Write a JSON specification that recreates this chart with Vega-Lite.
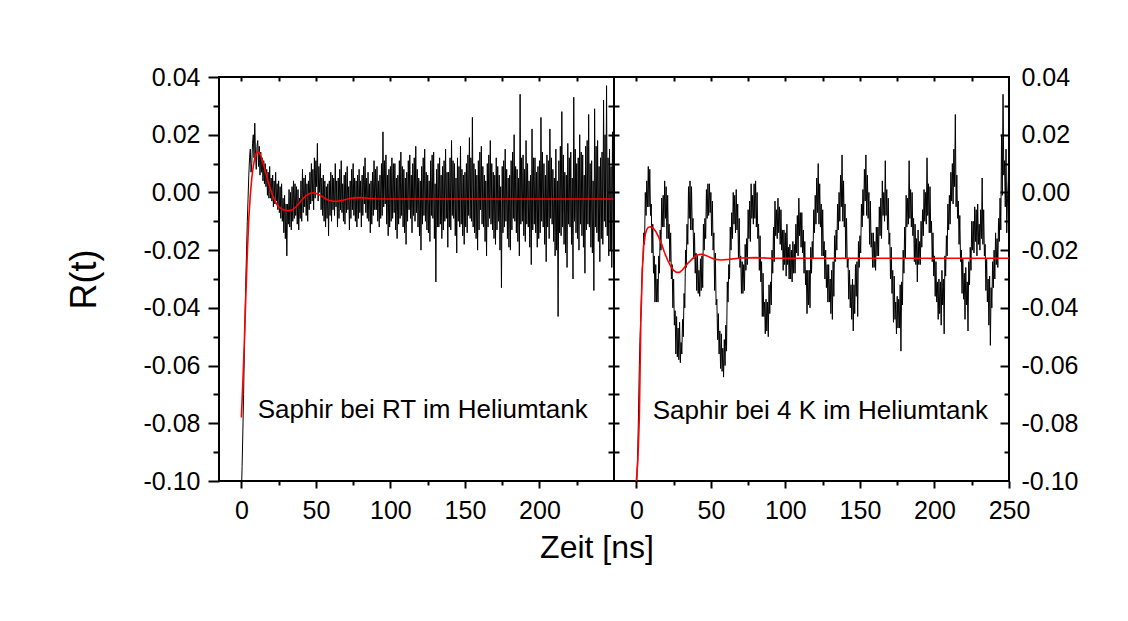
{
"$schema": "https://vega.github.io/schema/vega-lite/v6.json",
"padding": {"left": 65, "top": 64, "right": 5, "bottom": 5},
"spacing": 0,
"bounds": "flush",
"config": {
  "view": {"stroke": "black", "strokeWidth": 2},
  "axis": {"labelFont": "Liberation Sans", "titleFont": "Liberation Sans", "labelColor": "black", "titleColor": "black", "tickColor": "black", "domainColor": "black", "grid": false, "titleFontWeight": "normal", "labelFontSize": 25, "tickWidth": 2},
  "text": {"font": "Liberation Sans", "fontSize": 26, "color": "black"},
  "locale": {"number": {"decimal": ".", "thousands": ",", "grouping": [3], "currency": ["", ""], "minus": "-"}}
},
"datasets": {
"rt": [{"t":0,"r":-0.105},{"t":0.5,"r":-0.095},{"t":1,"r":-0.083},{"t":1.5,"r":-0.07},{"t":2,"r":-0.055},{"t":2.5,"r":-0.042},{"t":3,"r":-0.03},{"t":3.5,"r":-0.02},{"t":4,"r":-0.01},{"t":4.5,"r":-0.002},{"t":5,"r":0.006},{"t":5.5,"r":0.012},{"t":6,"r":0.015},{"t":6.5,"r":0.007},{"t":7,"r":0.01},{"t":7.5,"r":0.017},{"t":8,"r":0.02},{"t":8.5,"r":0.012},{"t":9,"r":0.024},{"t":9.5,"r":0.013},{"t":10,"r":0.008},{"t":10.5,"r":0.016},{"t":11,"r":0.018},{"t":11.5,"r":0.009},
{"t":12,"r":0.016},{"t":12.5,"r":0.006},{"t":13,"r":0.014},{"t":13.5,"r":0.007},{"t":14,"r":0.012},{"t":14.5,"r":0.004},{"t":15,"r":0.011},{"t":15.5,"r":0.003},{"t":16,"r":0.01},{"t":16.5,"r":0.002},{"t":17,"r":0.008},{"t":17.5,"r":-0.001},{"t":18,"r":0.007},{"t":18.5,"r":-0.002},{"t":19,"r":0.009},{"t":19.5,"r":-0.002},{"t":20,"r":0.005},{"t":20.5,"r":-0.003},{"t":21,"r":0.006},{"t":21.5,"r":-0.005},{"t":22,"r":0.004},{"t":22.5,"r":-0.004},{"t":23,"r":0.007},{"t":23.5,"r":-0.003},{"t":24,"r":0.003},{"t":24.5,"r":-0.006},{"t":25,"r":0.004},{"t":25.5,"r":-0.007},{"t":26,"r":0.002},{"t":26.5,"r":-0.009},{"t":27,"r":0.003},{"t":27.5,"r":-0.01},{"t":28,"r":-0.002},{"t":28.5,"r":-0.014},{"t":29,"r":-0.001},{"t":29.5,"r":-0.016},{"t":30,"r":-0.004},{"t":30.5,"r":-0.022},{"t":31,"r":-0.004},{"t":31.5,"r":-0.011},{"t":32,"r":0.001},{"t":32.5,"r":-0.012},{"t":33,"r":0},{"t":33.5,"r":-0.013},{"t":34,"r":0.002},{"t":34.5,"r":-0.01},{"t":35,"r":0.004},{"t":35.5,"r":-0.009},{"t":36,"r":0.003},{"t":36.5,"r":-0.008},{"t":37,"r":0.002},{"t":37.5,"r":-0.011},{"t":38,"r":0.001},{"t":38.5,"r":-0.013},{"t":39,"r":-0.002},{"t":39.5,"r":-0.009},{"t":40,"r":0.004},{"t":40.5,"r":-0.01},{"t":41,"r":0.008},{"t":41.5,"r":-0.007},{"t":42,"r":0.005},{"t":42.5,"r":-0.005},{"t":43,"r":0.006},{"t":43.5,"r":-0.008},{"t":44,"r":0.003},{"t":44.5,"r":-0.01},{"t":45,"r":0.004},{"t":45.5,"r":-0.006},{"t":46,"r":0.007},{"t":46.5,"r":-0.004},{"t":47,"r":0.01},{"t":47.5,"r":-0.003},{"t":48,"r":0.008},{"t":48.5,"r":-0.006},{"t":49,"r":0.012},{"t":49.5,"r":-0.002},{"t":50,"r":0.011},{"t":50.5,"r":0.002},{"t":51,"r":0.017},{"t":51.5,"r":-0.003},{"t":52,"r":0.009},{"t":52.5,"r":0},{"t":53,"r":0.01},{"t":53.5,"r":-0.006},{"t":54,"r":0.005},{"t":54.5,"r":-0.008},{"t":55,"r":0.006},{"t":55.5,"r":-0.01},{"t":56,"r":0.004},{"t":56.5,"r":-0.012},{"t":57,"r":0.002},{"t":57.5,"r":-0.009},{"t":58,"r":0.003},{"t":58.5,"r":-0.015},{"t":59,"r":0.004},{"t":59.5,"r":-0.008},{"t":60,"r":0.007},{"t":60.5,"r":-0.01},{"t":61,"r":0.006},{"t":61.5,"r":-0.006},{"t":62,"r":0.005},{"t":62.5,"r":-0.008},{"t":63,"r":0.01},{"t":63.5,"r":-0.005},{"t":64,"r":0.004},{"t":64.5,"r":-0.012},{"t":65,"r":0.005},{"t":65.5,"r":-0.009},{"t":66,"r":0.008},{"t":66.5,"r":-0.006},{"t":67,"r":0.011},{"t":67.5,"r":-0.007},{"t":68,"r":0.003},{"t":68.5,"r":-0.01},{"t":69,"r":0.006},{"t":69.5,"r":-0.011},{"t":70,"r":0.007},{"t":70.5,"r":-0.007},{"t":71,"r":0.009},{"t":71.5,"r":-0.006},{"t":72,"r":0.002},{"t":72.5,"r":-0.013},{"t":73,"r":0.004},{"t":73.5,"r":-0.009},{"t":74,"r":0.008},{"t":74.5,"r":-0.006},{"t":75,"r":0.01},{"t":75.5,"r":-0.008},{"t":76,"r":0.005},{"t":76.5,"r":-0.01},{"t":77,"r":0.004},{"t":77.5,"r":-0.012},{"t":78,"r":0.006},{"t":78.5,"r":-0.009},{"t":79,"r":0.008},{"t":79.5,"r":-0.007},{"t":80,"r":0.004},{"t":80.5,"r":-0.012},{"t":81,"r":0.006},{"t":81.5,"r":-0.008},{"t":82,"r":0.009},{"t":82.5,"r":-0.004},{"t":83,"r":0.012},{"t":83.5,"r":-0.007},{"t":84,"r":0.005},{"t":84.5,"r":-0.009},{"t":85,"r":0.007},{"t":85.5,"r":-0.01},{"t":86,"r":0.003},{"t":86.5,"r":-0.014},{"t":87,"r":0.004},{"t":87.5,"r":-0.011},{"t":88,"r":0.007},{"t":88.5,"r":-0.008},{"t":89,"r":0.011},{"t":89.5,"r":-0.006},{"t":90,"r":0.008},{"t":90.5,"r":-0.006},{"t":91,"r":0.009},{"t":91.5,"r":-0.01},{"t":92,"r":0.004},{"t":92.5,"r":-0.012},{"t":93,"r":0.006},{"t":93.5,"r":-0.009},{"t":94,"r":0.01},{"t":94.5,"r":-0.008},{"t":95,"r":0.021},{"t":95.5,"r":-0.005},{"t":96,"r":0.011},{"t":96.5,"r":-0.004},{"t":97,"r":0.013},{"t":97.5,"r":-0.011},{"t":98,"r":0.006},{"t":98.5,"r":-0.015},{"t":99,"r":0.008},{"t":99.5,"r":-0.012},{"t":100,"r":0.009},{"t":100.5,"r":-0.01},{"t":101,"r":0.012},{"t":101.5,"r":-0.009},{"t":102,"r":0.01},{"t":102.5,"r":-0.007},{"t":103,"r":0.01},{"t":103.5,"r":-0.013},{"t":104,"r":0.005},{"t":104.5,"r":-0.016},{"t":105,"r":0.006},{"t":105.5,"r":-0.011},{"t":106,"r":0.011},{"t":106.5,"r":-0.009},{"t":107,"r":0.014},{"t":107.5,"r":-0.008},{"t":108,"r":0.009},{"t":108.5,"r":-0.012},{"t":109,"r":0.008},{"t":109.5,"r":-0.014},{"t":110,"r":0.005},{"t":110.5,"r":-0.018},{"t":111,"r":0.007},{"t":111.5,"r":-0.01},{"t":112,"r":0.011},{"t":112.5,"r":-0.006},{"t":113,"r":0.013},{"t":113.5,"r":-0.009},{"t":114,"r":0.006},{"t":114.5,"r":-0.014},{"t":115,"r":0.01},{"t":115.5,"r":-0.008},{"t":116,"r":0.012},{"t":116.5,"r":-0.01},{"t":117,"r":0.016},{"t":117.5,"r":-0.007},{"t":118,"r":0.008},{"t":118.5,"r":-0.012},{"t":119,"r":0.005},{"t":119.5,"r":-0.015},{"t":120,"r":0.004},{"t":120.5,"r":-0.02},{"t":121,"r":0.009},{"t":121.5,"r":-0.011},{"t":122,"r":0.012},{"t":122.5,"r":-0.008},{"t":123,"r":0.015},{"t":123.5,"r":-0.01},{"t":124,"r":0.007},{"t":124.5,"r":-0.013},{"t":125,"r":0.006},{"t":125.5,"r":-0.014},{"t":126,"r":0.004},{"t":126.5,"r":-0.017},{"t":127,"r":0.011},{"t":127.5,"r":-0.008},{"t":128,"r":0.013},{"t":128.5,"r":-0.009},{"t":129,"r":0.014},{"t":129.5,"r":-0.016},{"t":130,"r":0.003},{"t":130.5,"r":-0.031},{"t":131,"r":0.008},{"t":131.5,"r":-0.012},{"t":132,"r":0.01},{"t":132.5,"r":-0.012},{"t":133,"r":0.012},{"t":133.5,"r":-0.011},{"t":134,"r":0.006},{"t":134.5,"r":-0.016},{"t":135,"r":0.009},{"t":135.5,"r":-0.013},{"t":136,"r":0.011},{"t":136.5,"r":-0.01},{"t":137,"r":0.015},{"t":137.5,"r":-0.009},{"t":138,"r":0.007},{"t":138.5,"r":-0.019},{"t":139,"r":0.007},{"t":139.5,"r":-0.012},{"t":140,"r":0.012},{"t":140.5,"r":-0.013},{"t":141,"r":0.018},{"t":141.5,"r":-0.008},{"t":142,"r":0.011},{"t":142.5,"r":-0.009},{"t":143,"r":0.01},{"t":143.5,"r":-0.015},{"t":144,"r":0.005},{"t":144.5,"r":-0.021},{"t":145,"r":0.012},{"t":145.5,"r":-0.01},{"t":146,"r":0.009},{"t":146.5,"r":-0.012},{"t":147,"r":0.016},{"t":147.5,"r":-0.011},{"t":148,"r":0.008},{"t":148.5,"r":-0.015},{"t":149,"r":0.006},{"t":149.5,"r":-0.018},{"t":150,"r":0.007},{"t":150.5,"r":-0.012},{"t":151,"r":0.01},{"t":151.5,"r":-0.014},{"t":152,"r":0.013},{"t":152.5,"r":-0.008},{"t":153,"r":0.019},{"t":153.5,"r":-0.009},{"t":154,"r":0.012},{"t":154.5,"r":-0.01},{"t":155,"r":0.026},{"t":155.5,"r":-0.012},{"t":156,"r":0.01},{"t":156.5,"r":-0.014},{"t":157,"r":0.008},{"t":157.5,"r":-0.016},{"t":158,"r":0.006},{"t":158.5,"r":-0.02},{"t":159,"r":0.011},{"t":159.5,"r":-0.013},{"t":160,"r":0.014},{"t":160.5,"r":-0.006},{"t":161,"r":0.016},{"t":161.5,"r":-0.011},{"t":162,"r":0.009},{"t":162.5,"r":-0.012},{"t":163,"r":0.006},{"t":163.5,"r":-0.017},{"t":164,"r":0.004},{"t":164.5,"r":-0.022},{"t":165,"r":0.01},{"t":165.5,"r":-0.012},{"t":166,"r":0.013},{"t":166.5,"r":-0.009},{"t":167,"r":0.018},{"t":167.5,"r":-0.011},{"t":168,"r":0.01},{"t":168.5,"r":-0.013},{"t":169,"r":0.007},{"t":169.5,"r":-0.016},{"t":170,"r":0.006},{"t":170.5,"r":-0.018},{"t":171,"r":0.012},{"t":171.5,"r":-0.013},{"t":172,"r":0.009},{"t":172.5,"r":-0.01},{"t":173,"r":0.006},{"t":173.5,"r":-0.02},{"t":174,"r":0.002},{"t":174.5,"r":-0.033},{"t":175,"r":0.009},{"t":175.5,"r":-0.014},{"t":176,"r":0.011},{"t":176.5,"r":-0.012},{"t":177,"r":0.015},{"t":177.5,"r":-0.01},{"t":178,"r":0.008},{"t":178.5,"r":-0.016},{"t":179,"r":0.005},{"t":179.5,"r":-0.019},{"t":180,"r":0.006},{"t":180.5,"r":-0.02},{"t":181,"r":0.011},{"t":181.5,"r":-0.013},{"t":182,"r":0.014},{"t":182.5,"r":-0.009},{"t":183,"r":0.02},{"t":183.5,"r":-0.01},{"t":184,"r":0.009},{"t":184.5,"r":-0.014},{"t":185,"r":0.008},{"t":185.5,"r":-0.017},{"t":186,"r":0.005},{"t":186.5,"r":-0.022},{"t":187,"r":0.034},{"t":187.5,"r":-0.011},{"t":188,"r":0.012},{"t":188.5,"r":-0.01},{"t":189,"r":0.013},{"t":189.5,"r":-0.015},{"t":190,"r":0.008},{"t":190.5,"r":-0.017},{"t":191,"r":0.018},{"t":191.5,"r":-0.011},{"t":192,"r":0.01},{"t":192.5,"r":-0.012},{"t":193,"r":0.004},{"t":193.5,"r":-0.019},{"t":194,"r":0.006},{"t":194.5,"r":-0.025},{"t":195,"r":0.022},{"t":195.5,"r":-0.013},{"t":196,"r":0.012},{"t":196.5,"r":-0.011},{"t":197,"r":0.012},{"t":197.5,"r":-0.014},{"t":198,"r":0.007},{"t":198.5,"r":-0.019},{"t":199,"r":0.009},{"t":199.5,"r":-0.016},{"t":200,"r":0.011},{"t":200.5,"r":-0.014},{"t":201,"r":0.026},{"t":201.5,"r":-0.01},{"t":202,"r":0.014},{"t":202.5,"r":-0.012},{"t":203,"r":0.01},{"t":203.5,"r":-0.018},{"t":204,"r":0.006},{"t":204.5,"r":-0.024},{"t":205,"r":0.013},{"t":205.5,"r":-0.012},{"t":206,"r":0.011},{"t":206.5,"r":-0.016},{"t":207,"r":0.022},{"t":207.5,"r":-0.009},{"t":208,"r":0.012},{"t":208.5,"r":-0.011},{"t":209,"r":0.008},{"t":209.5,"r":-0.017},{"t":210,"r":0.005},{"t":210.5,"r":-0.022},{"t":211,"r":0.015},{"t":211.5,"r":-0.02},{"t":212,"r":0.004},{"t":212.5,"r":-0.043},{"t":213,"r":0.011},{"t":213.5,"r":-0.014},{"t":214,"r":0.016},{"t":214.5,"r":-0.015},{"t":215,"r":0.028},{"t":215.5,"r":-0.012},{"t":216,"r":0.013},{"t":216.5,"r":-0.018},{"t":217,"r":0.007},{"t":217.5,"r":-0.021},{"t":218,"r":0.006},{"t":218.5,"r":-0.026},{"t":219,"r":0.017},{"t":219.5,"r":-0.011},{"t":220,"r":0.012},{"t":220.5,"r":-0.012},{"t":221,"r":0.014},{"t":221.5,"r":-0.018},{"t":222,"r":0.005},{"t":222.5,"r":-0.03},{"t":223,"r":0.033},{"t":223.5,"r":-0.01},{"t":224,"r":0.015},{"t":224.5,"r":-0.014},{"t":225,"r":0.01},{"t":225.5,"r":-0.016},{"t":226,"r":0.012},{"t":226.5,"r":-0.02},{"t":227,"r":0.02},{"t":227.5,"r":-0.011},{"t":228,"r":0.014},{"t":228.5,"r":-0.015},{"t":229,"r":0.013},{"t":229.5,"r":-0.019},{"t":230,"r":0.006},{"t":230.5,"r":-0.028},{"t":231,"r":0.016},{"t":231.5,"r":-0.013},{"t":232,"r":0.018},{"t":232.5,"r":-0.011},{"t":233,"r":0.027},{"t":233.5,"r":-0.012},{"t":234,"r":0.01},{"t":234.5,"r":-0.019},{"t":235,"r":0.011},{"t":235.5,"r":-0.021},{"t":236,"r":0.004},{"t":236.5,"r":-0.034},{"t":237,"r":0.029},{"t":237.5,"r":-0.012},{"t":238,"r":0.016},{"t":238.5,"r":-0.014},{"t":239,"r":0.018},{"t":239.5,"r":-0.017},{"t":240,"r":0.009},{"t":240.5,"r":-0.024},{"t":241,"r":0.012},{"t":241.5,"r":-0.016},{"t":242,"r":0.014},{"t":242.5,"r":-0.018},{"t":243,"r":0.032},{"t":243.5,"r":-0.01},{"t":244,"r":0.02},{"t":244.5,"r":-0.012},{"t":245,"r":0.037},{"t":245.5,"r":-0.015},{"t":246,"r":0.012},{"t":246.5,"r":-0.022},{"t":247,"r":0.015},{"t":247.5,"r":-0.02},{"t":248,"r":0.009},{"t":248.5,"r":-0.026},{"t":249,"r":0.021},{"t":249.5,"r":-0.018},{"t":250,"r":-0.04}],
"k4": [{"t":0,"r":-0.105},{"t":0.5,"r":-0.097},{"t":1,"r":-0.088},{"t":1.5,"r":-0.075},{"t":2,"r":-0.06},{"t":2.5,"r":-0.05},{"t":3,"r":-0.042},{"t":3.5,"r":-0.034},{"t":4,"r":-0.026},{"t":4.5,"r":-0.022},{"t":5,"r":-0.014},{"t":5.5,"r":-0.018},{"t":6,"r":0},{"t":6.5,"r":-0.008},{"t":7,"r":0.004},{"t":7.5,"r":-0.005},
{"t":8,"r":0.009},{"t":8.5,"r":-0.005},{"t":9,"r":0.008},{"t":9.5,"r":-0.008},{"t":10,"r":-0.004},{"t":10.5,"r":-0.021},{"t":11,"r":-0.011},{"t":11.5,"r":-0.028},{"t":12,"r":-0.022},{"t":12.5,"r":-0.038},{"t":13,"r":-0.025},{"t":13.5,"r":-0.038},{"t":14,"r":-0.03},{"t":14.5,"r":-0.038},{"t":15,"r":-0.022},{"t":15.5,"r":-0.028},{"t":16,"r":-0.013},{"t":16.5,"r":-0.02},{"t":17,"r":-0.002},{"t":17.5,"r":-0.012},{"t":18,"r":-0.001},{"t":18.5,"r":-0.012},{"t":19,"r":0.004},{"t":19.5,"r":-0.009},{"t":20,"r":0.002},{"t":20.5,"r":-0.016},{"t":21,"r":-0.001},{"t":21.5,"r":-0.016},{"t":22,"r":-0.011},{"t":22.5,"r":-0.024},{"t":23,"r":-0.014},{"t":23.5,"r":-0.03},{"t":24,"r":-0.025},{"t":24.5,"r":-0.04},{"t":25,"r":-0.03},{"t":25.5,"r":-0.046},{"t":26,"r":-0.041},{"t":26.5,"r":-0.056},{"t":27,"r":-0.043},{"t":27.5,"r":-0.057},{"t":28,"r":-0.047},{"t":28.5,"r":-0.058},{"t":29,"r":-0.045},{"t":29.5,"r":-0.059},{"t":30,"r":-0.052},{"t":30.5,"r":-0.056},{"t":31,"r":-0.044},{"t":31.5,"r":-0.05},{"t":32,"r":-0.035},{"t":32.5,"r":-0.04},{"t":33,"r":-0.02},{"t":33.5,"r":-0.026},{"t":34,"r":-0.011},{"t":34.5,"r":-0.018},{"t":35,"r":0.002},{"t":35.5,"r":-0.009},{"t":36,"r":0.004},{"t":36.5,"r":-0.013},{"t":37,"r":0.002},{"t":37.5,"r":-0.013},{"t":38,"r":-0.009},{"t":38.5,"r":-0.023},{"t":39,"r":-0.014},{"t":39.5,"r":-0.028},{"t":40,"r":-0.021},{"t":40.5,"r":-0.034},{"t":41,"r":-0.022},{"t":41.5,"r":-0.035},{"t":42,"r":-0.027},{"t":42.5,"r":-0.036},{"t":43,"r":-0.023},{"t":43.5,"r":-0.034},{"t":44,"r":-0.022},{"t":44.5,"r":-0.033},{"t":45,"r":-0.011},{"t":45.5,"r":-0.02},{"t":46,"r":-0.009},{"t":46.5,"r":-0.016},{"t":47,"r":0.001},{"t":47.5,"r":-0.009},{"t":48,"r":0.003},{"t":48.5,"r":-0.008},{"t":49,"r":0.003},{"t":49.5,"r":-0.007},{"t":50,"r":0},{"t":50.5,"r":-0.015},{"t":51,"r":-0.003},{"t":51.5,"r":-0.02},{"t":52,"r":-0.014},{"t":52.5,"r":-0.034},{"t":53,"r":-0.021},{"t":53.5,"r":-0.039},{"t":54,"r":-0.037},{"t":54.5,"r":-0.051},{"t":55,"r":-0.042},{"t":55.5,"r":-0.056},{"t":56,"r":-0.048},{"t":56.5,"r":-0.061},{"t":57,"r":-0.049},{"t":57.5,"r":-0.062},{"t":58,"r":-0.054},{"t":58.5,"r":-0.064},{"t":59,"r":-0.051},{"t":59.5,"r":-0.06},{"t":60,"r":-0.046},{"t":60.5,"r":-0.055},{"t":61,"r":-0.031},{"t":61.5,"r":-0.038},{"t":62,"r":-0.025},{"t":62.5,"r":-0.03},{"t":63,"r":-0.012},{"t":63.5,"r":-0.02},{"t":64,"r":-0.007},{"t":64.5,"r":-0.016},{"t":65,"r":0},{"t":65.5,"r":-0.011},{"t":66,"r":-0.001},{"t":66.5,"r":-0.014},{"t":67,"r":0.001},{"t":67.5,"r":-0.013},{"t":68,"r":-0.004},{"t":68.5,"r":-0.023},{"t":69,"r":-0.009},{"t":69.5,"r":-0.026},{"t":70,"r":-0.022},{"t":70.5,"r":-0.035},{"t":71,"r":-0.024},{"t":71.5,"r":-0.035},{"t":72,"r":-0.025},{"t":72.5,"r":-0.034},{"t":73,"r":-0.018},{"t":73.5,"r":-0.027},{"t":74,"r":-0.016},{"t":74.5,"r":-0.025},{"t":75,"r":-0.006},{"t":75.5,"r":-0.016},{"t":76,"r":-0.003},{"t":76.5,"r":-0.017},{"t":77,"r":0.003},{"t":77.5,"r":-0.009},{"t":78,"r":-0.001},{"t":78.5,"r":-0.011},{"t":79,"r":0.003},{"t":79.5,"r":-0.009},{"t":80,"r":0.004},{"t":80.5,"r":-0.012},{"t":81,"r":0},{"t":81.5,"r":-0.016},{"t":82,"r":-0.011},{"t":82.5,"r":-0.027},{"t":83,"r":-0.015},{"t":83.5,"r":-0.031},{"t":84,"r":-0.024},{"t":84.5,"r":-0.043},{"t":85,"r":-0.028},{"t":85.5,"r":-0.043},{"t":86,"r":-0.038},{"t":86.5,"r":-0.049},{"t":87,"r":-0.037},{"t":87.5,"r":-0.048},{"t":88,"r":-0.038},{"t":88.5,"r":-0.05},{"t":89,"r":-0.032},{"t":89.5,"r":-0.042},{"t":90,"r":-0.031},{"t":90.5,"r":-0.039},{"t":91,"r":-0.02},{"t":91.5,"r":-0.028},{"t":92,"r":-0.012},{"t":92.5,"r":-0.024},{"t":93,"r":-0.003},{"t":93.5,"r":-0.015},{"t":94,"r":-0.006},{"t":94.5,"r":-0.016},{"t":95,"r":-0.002},{"t":95.5,"r":-0.014},{"t":96,"r":-0.005},{"t":96.5,"r":-0.018},{"t":97,"r":-0.006},{"t":97.5,"r":-0.02},{"t":98,"r":-0.013},{"t":98.5,"r":-0.027},{"t":99,"r":-0.013},{"t":99.5,"r":-0.025},{"t":100,"r":-0.014},{"t":100.5,"r":-0.029},{"t":101,"r":-0.011},{"t":101.5,"r":-0.025},{"t":102,"r":-0.019},{"t":102.5,"r":-0.03},{"t":103,"r":-0.018},{"t":103.5,"r":-0.03},{"t":104,"r":-0.02},{"t":104.5,"r":-0.031},{"t":105,"r":-0.017},{"t":105.5,"r":-0.028},{"t":106,"r":-0.018},{"t":106.5,"r":-0.028},{"t":107,"r":-0.011},{"t":107.5,"r":-0.021},{"t":108,"r":-0.008},{"t":108.5,"r":-0.022},{"t":109,"r":-0.002},{"t":109.5,"r":-0.015},{"t":110,"r":-0.007},{"t":110.5,"r":-0.019},{"t":111,"r":-0.007},{"t":111.5,"r":-0.021},{"t":112,"r":-0.013},{"t":112.5,"r":-0.028},{"t":113,"r":-0.017},{"t":113.5,"r":-0.032},{"t":114,"r":-0.027},{"t":114.5,"r":-0.042},{"t":115,"r":-0.027},{"t":115.5,"r":-0.039},{"t":116,"r":-0.027},{"t":116.5,"r":-0.04},{"t":117,"r":-0.019},{"t":117.5,"r":-0.028},{"t":118,"r":-0.017},{"t":118.5,"r":-0.023},{"t":119,"r":-0.006},{"t":119.5,"r":-0.014},{"t":120,"r":-0.001},{"t":120.5,"r":-0.011},{"t":121,"r":0.005},{"t":121.5,"r":-0.007},{"t":122,"r":0.01},{"t":122.5,"r":-0.011},{"t":123,"r":0.003},{"t":123.5,"r":-0.012},{"t":124,"r":-0.004},{"t":124.5,"r":-0.022},{"t":125,"r":-0.006},{"t":125.5,"r":-0.022},{"t":126,"r":-0.017},{"t":126.5,"r":-0.03},{"t":127,"r":-0.02},{"t":127.5,"r":-0.033},{"t":128,"r":-0.025},{"t":128.5,"r":-0.038},{"t":129,"r":-0.025},{"t":129.5,"r":-0.038},{"t":130,"r":-0.03},{"t":130.5,"r":-0.042},{"t":131,"r":-0.027},{"t":131.5,"r":-0.044},{"t":132,"r":-0.024},{"t":132.5,"r":-0.036},{"t":133,"r":-0.015},{"t":133.5,"r":-0.024},{"t":134,"r":-0.013},{"t":134.5,"r":-0.02},{"t":135,"r":-0.004},{"t":135.5,"r":-0.013},{"t":136,"r":0},{"t":136.5,"r":-0.01},{"t":137,"r":0.006},{"t":137.5,"r":-0.005},{"t":138,"r":0.013},{"t":138.5,"r":-0.01},{"t":139,"r":0.004},{"t":139.5,"r":-0.012},{"t":140,"r":-0.004},{"t":140.5,"r":-0.023},{"t":141,"r":-0.009},{"t":141.5,"r":-0.026},{"t":142,"r":-0.023},{"t":142.5,"r":-0.037},{"t":143,"r":-0.027},{"t":143.5,"r":-0.04},{"t":144,"r":-0.032},{"t":144.5,"r":-0.044},{"t":145,"r":-0.03},{"t":145.5,"r":-0.048},{"t":146,"r":-0.032},{"t":146.5,"r":-0.042},{"t":147,"r":-0.025},{"t":147.5,"r":-0.036},{"t":148,"r":-0.024},{"t":148.5,"r":-0.043},{"t":149,"r":-0.017},{"t":149.5,"r":-0.026},{"t":150,"r":-0.015},{"t":150.5,"r":-0.021},{"t":151,"r":-0.004},{"t":151.5,"r":-0.012},{"t":152,"r":0.001},{"t":152.5,"r":-0.008},{"t":153,"r":0.008},{"t":153.5,"r":-0.003},{"t":154,"r":0.013},{"t":154.5,"r":-0.008},{"t":155,"r":0.006},{"t":155.5,"r":-0.009},{"t":156,"r":0},{"t":156.5,"r":-0.018},{"t":157,"r":-0.003},{"t":157.5,"r":-0.019},{"t":158,"r":-0.014},{"t":158.5,"r":-0.026},{"t":159,"r":-0.014},{"t":159.5,"r":-0.026},{"t":160,"r":-0.017},{"t":160.5,"r":-0.027},{"t":161,"r":-0.012},{"t":161.5,"r":-0.022},{"t":162,"r":-0.012},{"t":162.5,"r":-0.022},{"t":163,"r":-0.005},{"t":163.5,"r":-0.015},{"t":164,"r":-0.002},{"t":164.5,"r":-0.016},{"t":165,"r":0.004},{"t":165.5,"r":-0.008},{"t":166,"r":0},{"t":166.5,"r":-0.01},{"t":167,"r":0.011},{"t":167.5,"r":-0.008},{"t":168,"r":0.001},{"t":168.5,"r":-0.013},{"t":169,"r":-0.002},{"t":169.5,"r":-0.018},{"t":170,"r":-0.014},{"t":170.5,"r":-0.03},{"t":171,"r":-0.019},{"t":171.5,"r":-0.035},{"t":172,"r":-0.027},{"t":172.5,"r":-0.045},{"t":173,"r":-0.029},{"t":173.5,"r":-0.044},{"t":174,"r":-0.038},{"t":174.5,"r":-0.049},{"t":175,"r":-0.036},{"t":175.5,"r":-0.047},{"t":176,"r":-0.037},{"t":176.5,"r":-0.047},{"t":177,"r":-0.032},{"t":177.5,"r":-0.055},{"t":178,"r":-0.031},{"t":178.5,"r":-0.039},{"t":179,"r":-0.02},{"t":179.5,"r":-0.028},{"t":180,"r":-0.012},{"t":180.5,"r":-0.023},{"t":181,"r":-0.001},{"t":181.5,"r":-0.012},{"t":182,"r":-0.002},{"t":182.5,"r":-0.011},{"t":183,"r":0.011},{"t":183.5,"r":-0.009},{"t":184,"r":0.001},{"t":184.5,"r":-0.012},{"t":185,"r":0},{"t":185.5,"r":-0.015},{"t":186,"r":-0.009},{"t":186.5,"r":-0.024},{"t":187,"r":-0.011},{"t":187.5,"r":-0.025},{"t":188,"r":-0.016},{"t":188.5,"r":-0.031},{"t":189,"r":-0.013},{"t":189.5,"r":-0.025},{"t":190,"r":-0.017},{"t":190.5,"r":-0.025},{"t":191,"r":-0.01},{"t":191.5,"r":-0.019},{"t":192,"r":-0.006},{"t":192.5,"r":-0.015},{"t":193,"r":0.001},{"t":193.5,"r":-0.01},{"t":194,"r":0},{"t":194.5,"r":-0.011},{"t":195,"r":0.012},{"t":195.5,"r":-0.008},{"t":196,"r":0.003},{"t":196.5,"r":-0.014},{"t":197,"r":0.002},{"t":197.5,"r":-0.014},{"t":198,"r":-0.01},{"t":198.5,"r":-0.024},{"t":199,"r":-0.014},{"t":199.5,"r":-0.029},{"t":200,"r":-0.022},{"t":200.5,"r":-0.036},{"t":201,"r":-0.024},{"t":201.5,"r":-0.038},{"t":202,"r":-0.031},{"t":202.5,"r":-0.044},{"t":203,"r":-0.03},{"t":203.5,"r":-0.042},{"t":204,"r":-0.031},{"t":204.5,"r":-0.046},{"t":205,"r":-0.027},{"t":205.5,"r":-0.039},{"t":206,"r":-0.03},{"t":206.5,"r":-0.049},{"t":207,"r":-0.022},{"t":207.5,"r":-0.029},{"t":208,"r":-0.015},{"t":208.5,"r":-0.022},{"t":209,"r":-0.004},{"t":209.5,"r":-0.013},{"t":210,"r":-0.001},{"t":210.5,"r":-0.011},{"t":211,"r":0.007},{"t":211.5,"r":-0.003},{"t":212,"r":0.01},{"t":212.5,"r":-0.004},{"t":213,"r":0.015},{"t":213.5,"r":0.002},{"t":214,"r":0.027},{"t":214.5,"r":-0.005},{"t":215,"r":0.006},{"t":215.5,"r":-0.009},{"t":216,"r":-0.003},{"t":216.5,"r":-0.018},{"t":217,"r":-0.008},{"t":217.5,"r":-0.024},{"t":218,"r":-0.02},{"t":218.5,"r":-0.035},{"t":219,"r":-0.023},{"t":219.5,"r":-0.037},{"t":220,"r":-0.028},{"t":220.5,"r":-0.044},{"t":221,"r":-0.026},{"t":221.5,"r":-0.039},{"t":222,"r":-0.031},{"t":222.5,"r":-0.048},{"t":223,"r":-0.024},{"t":223.5,"r":-0.032},{"t":224,"r":-0.019},{"t":224.5,"r":-0.027},{"t":225,"r":-0.01},{"t":225.5,"r":-0.02},{"t":226,"r":-0.01},{"t":226.5,"r":-0.021},{"t":227,"r":-0.005},{"t":227.5,"r":-0.017},{"t":228,"r":-0.006},{"t":228.5,"r":-0.022},{"t":229,"r":-0.004},{"t":229.5,"r":-0.018},{"t":230,"r":-0.011},{"t":230.5,"r":-0.02},{"t":231,"r":-0.006},{"t":231.5,"r":-0.016},{"t":232,"r":0.005},{"t":232.5,"r":-0.018},{"t":233,"r":-0.006},{"t":233.5,"r":-0.022},{"t":234,"r":-0.018},{"t":234.5,"r":-0.034},{"t":235,"r":-0.023},{"t":235.5,"r":-0.038},{"t":236,"r":-0.03},{"t":236.5,"r":-0.046},{"t":237,"r":-0.029},{"t":237.5,"r":-0.053},{"t":238,"r":-0.033},{"t":238.5,"r":-0.04},{"t":239,"r":-0.024},{"t":239.5,"r":-0.033},{"t":240,"r":-0.02},{"t":240.5,"r":-0.03},{"t":241,"r":-0.014},{"t":241.5,"r":-0.025},{"t":242,"r":-0.016},{"t":242.5,"r":-0.026},{"t":243,"r":-0.009},{"t":243.5,"r":-0.017},{"t":244,"r":-0.002},{"t":244.5,"r":-0.013},{"t":245,"r":0.02},{"t":245.5,"r":-0.001},{"t":246,"r":0.034},{"t":246.5,"r":0.006},{"t":247,"r":0.011},{"t":247.5,"r":-0.005},{"t":248,"r":0.015},{"t":248.5,"r":-0.014},{"t":249,"r":-0.002},{"t":249.5,"r":0.004},{"t":250,"r":0.022}],
"fitrt": [{"t":0,"r":-0.078},{"t":1,"r":-0.066},{"t":2,"r":-0.052},{"t":3,"r":-0.036},{"t":4,"r":-0.021},{"t":5,"r":-0.009},{"t":6,"r":-0.001},{"t":7,"r":0.005},{"t":8,"r":0.009},{"t":9,"r":0.0118},{"t":10,"r":0.0135},{"t":11,"r":0.0141},{"t":12,"r":0.0138},{"t":13,"r":0.0128},{"t":15,"r":0.0095},{"t":17,"r":0.0055},{"t":19,"r":0.002},{"t":21,"r":-0.001},{"t":23,"r":-0.0035},{"t":25,"r":-0.005},{"t":28,"r":-0.006},{"t":31,"r":-0.0063},{"t":34,"r":-0.0061},{"t":37,"r":-0.0048},{"t":40,"r":-0.003},{"t":43,"r":-0.0013},{"t":46,"r":-0.0003},{"t":49,"r":-0.0001},{"t":52,"r":-0.0007},{"t":55,"r":-0.0017},{"t":58,"r":-0.0026},{"t":61,"r":-0.003},{"t":64,"r":-0.0031},{"t":68,"r":-0.0027},{"t":72,"r":-0.0022},{"t":76,"r":-0.0019},{"t":80,"r":-0.0018},{"t":85,"r":-0.002},{"t":90,"r":-0.0022},{"t":100,"r":-0.0023},{"t":250,"r":-0.0023}],
"fitk4": [{"t":0,"r":-0.1},{"t":1,"r":-0.093},{"t":2,"r":-0.078},{"t":3,"r":-0.045},{"t":4,"r":-0.027},{"t":5,"r":-0.018},{"t":6,"r":-0.0145},{"t":7,"r":-0.0128},{"t":8,"r":-0.0121},{"t":9.5,"r":-0.0119},{"t":11,"r":-0.0122},{"t":13,"r":-0.0135},{"t":15,"r":-0.0155},{"t":17,"r":-0.018},{"t":19,"r":-0.021},{"t":21,"r":-0.0235},{"t":23,"r":-0.0255},{"t":25,"r":-0.027},{"t":27,"r":-0.0277},{"t":29,"r":-0.0277},{"t":31,"r":-0.0268},{"t":33,"r":-0.0255},{"t":35,"r":-0.0243},{"t":38,"r":-0.0228},{"t":41,"r":-0.0217},{"t":44,"r":-0.0214},{"t":47,"r":-0.0219},{"t":50,"r":-0.0226},{"t":53,"r":-0.0232},{"t":57,"r":-0.0234},{"t":62,"r":-0.0232},{"t":70,"r":-0.0227},{"t":80,"r":-0.0226},{"t":90,"r":-0.0228},{"t":250,"r":-0.0228}]
},
"hconcat": [
{
  "width": 395, "height": 404,
  "resolve": {"axis": {"x": "independent", "y": "independent"}},
  "layer": [
    {"data": {"name": "rt"}, "mark": {"type": "line", "color": "black", "strokeWidth": 1, "clip": true},
     "encoding": {
       "x": {"field": "t", "type": "quantitative", "scale": {"domain": [-15, 250], "nice": false, "zero": false},
             "axis": {"orient": "bottom", "values": [0, 50, 100, 150, 200], "tickSize": 7, "labelPadding": 10, "labelFlush": false, "domain": false, "title": "Zeit [ns]", "titleFontSize": 32, "titleX": 377.5, "titleY": 76, "titleAlign": "center", "titleBaseline": "alphabetic"}},
       "y": {"field": "r", "type": "quantitative", "scale": {"domain": [-0.1, 0.04], "nice": false, "zero": false},
             "axis": {"orient": "left", "values": [-0.1, -0.08, -0.06, -0.04, -0.02, 0, 0.02, 0.04], "format": ".2f", "tickSize": 11, "labelPadding": 8, "domain": false, "title": "R(t)", "titleFontSize": 36, "titlePadding": 40}}
     }},
    {"data": {"name": "fitrt"}, "mark": {"type": "line", "color": "#ff0000", "strokeWidth": 1.6, "clip": true},
     "encoding": {
       "x": {"field": "t", "type": "quantitative", "scale": {"domain": [-15, 250], "nice": false, "zero": false},
             "axis": {"orient": "bottom", "values": [25, 75, 125, 175, 225], "tickSize": 4, "labels": false, "domain": false, "title": null}},
       "y": {"field": "r", "type": "quantitative", "scale": {"domain": [-0.1, 0.04], "nice": false, "zero": false},
             "axis": {"orient": "left", "values": [-0.09, -0.07, -0.05, -0.03, -0.01, 0.01, 0.03], "tickSize": 6, "labels": false, "domain": false, "title": null}}
     }},
    {"data": {"values": [{}]}, "mark": {"type": "text", "text": "Saphir bei RT im Heliumtank", "align": "left", "baseline": "alphabetic", "fontSize": 26},
     "encoding": {
       "x": {"datum": 11, "type": "quantitative", "scale": {"domain": [-15, 250], "nice": false, "zero": false},
             "axis": {"orient": "top", "values": [0, 25, 50, 75, 100, 125, 150, 175, 200, 225], "tickSize": -4, "labels": false, "domain": false, "title": null}},
       "y": {"datum": -0.078, "type": "quantitative", "scale": {"domain": [-0.1, 0.04], "nice": false, "zero": false},
             "axis": {"orient": "right", "values": [-0.09, -0.08, -0.07, -0.06, -0.05, -0.04, -0.03, -0.02, -0.01, 0, 0.01, 0.02, 0.03], "tickSize": -6, "labels": false, "domain": false, "title": null}}
     }}
  ]
},
{
  "width": 395, "height": 404,
  "resolve": {"axis": {"x": "independent", "y": "independent"}},
  "layer": [
    {"data": {"name": "k4"}, "mark": {"type": "line", "color": "black", "strokeWidth": 1, "clip": true},
     "encoding": {
       "x": {"field": "t", "type": "quantitative", "scale": {"domain": [-15, 250], "nice": false, "zero": false},
             "axis": {"orient": "bottom", "values": [0, 50, 100, 150, 200, 250], "tickSize": 7, "labelPadding": 10, "labelFlush": false, "domain": false, "title": null}},
       "y": {"field": "r", "type": "quantitative", "scale": {"domain": [-0.1, 0.04], "nice": false, "zero": false},
             "axis": {"orient": "right", "values": [-0.1, -0.08, -0.06, -0.04, -0.02, 0, 0.02, 0.04], "format": ".2f", "ticks": false, "labelPadding": 12, "domain": false, "title": null}}
     }},
    {"data": {"name": "fitk4"}, "mark": {"type": "line", "color": "#ff0000", "strokeWidth": 1.6, "clip": true},
     "encoding": {
       "x": {"field": "t", "type": "quantitative", "scale": {"domain": [-15, 250], "nice": false, "zero": false},
             "axis": {"orient": "bottom", "values": [25, 75, 125, 175, 225], "tickSize": 4, "labels": false, "domain": false, "title": null}},
       "y": {"field": "r", "type": "quantitative", "scale": {"domain": [-0.1, 0.04], "nice": false, "zero": false},
             "axis": {"orient": "right", "values": [-0.08, -0.06, -0.04, -0.02, 0, 0.02], "tickSize": -9, "labels": false, "domain": false, "title": null}}
     }},
    {"data": {"values": [{}]}, "mark": {"type": "text", "text": "Saphir bei 4 K im Heliumtank", "align": "left", "baseline": "alphabetic", "fontSize": 26},
     "encoding": {
       "x": {"datum": 11, "type": "quantitative", "scale": {"domain": [-15, 250], "nice": false, "zero": false},
             "axis": {"orient": "top", "values": [0, 25, 50, 75, 100, 125, 150, 175, 200, 225], "tickSize": -4, "labels": false, "domain": false, "title": null}},
       "y": {"datum": -0.0786, "type": "quantitative", "scale": {"domain": [-0.1, 0.04], "nice": false, "zero": false},
             "axis": {"orient": "left", "values": [-0.09, -0.08, -0.07, -0.06, -0.05, -0.04, -0.03, -0.02, -0.01, 0, 0.01, 0.02, 0.03], "tickSize": -5, "labels": false, "domain": false, "title": null}}
     }},
    {"data": {"name": "fitk4"}, "mark": {"type": "line", "color": "#ff0000", "strokeWidth": 1.6, "clip": true, "opacity": 0},
     "encoding": {
       "x": {"field": "t", "type": "quantitative", "scale": {"domain": [-15, 250], "nice": false, "zero": false}, "axis": null},
       "y": {"field": "r", "type": "quantitative", "scale": {"domain": [-0.1, 0.04], "nice": false, "zero": false},
             "axis": {"orient": "right", "values": [-0.09, -0.07, -0.05, -0.03, -0.01, 0.01, 0.03], "tickSize": -5, "labels": false, "domain": false, "title": null}}
     }}
  ]
}
]
}
